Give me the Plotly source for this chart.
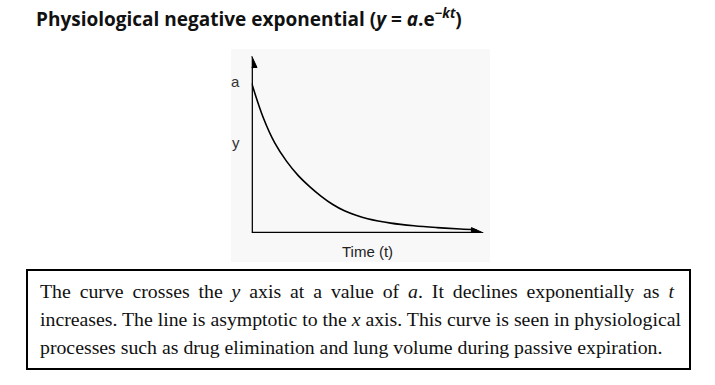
import plotly.graph_objects as go

# Data (time in arbitrary units, y as a fraction of a)
time_t = [0.0, 0.5, 1.0, 1.5, 2.0, 2.5, 3.0, 3.5, 4.0, 4.5, 5.0, 6.0, 7.0, 8.0, 9.0, 9.7]
y_vals = [1.0, 0.77, 0.60, 0.48, 0.385, 0.31, 0.245, 0.19, 0.148, 0.118, 0.095, 0.066, 0.048, 0.036, 0.027, 0.022]

title_text = "<b>Physiological negative exponential (<i>y</i> = <i>a</i>.e<sup>\u2212<i>kt</i></sup>)</b>"
x_label = "Time (t)"
y_label = "y"
a_label = "a"
caption_lines = [
    "The curve crosses the <i>y</i> axis at a value of <i>a</i>. It declines exponentially as <i>t</i>",
    "increases. The line is asymptotic to the <i>x</i> axis. This curve is seen in physiological",
    "processes such as drug elimination and lung volume during passive expiration.",
]

W, H = 715, 385
X_MAX, Y_MAX = 10.0, 1.182

def px(x):
    return x / W

def py(y):
    return (H - y) / H

fig = go.Figure()
fig.add_trace(go.Scatter(x=time_t, y=y_vals, mode="lines",
                         line=dict(color="black", width=1.6, shape="spline", smoothing=1.0),
                         hoverinfo="skip", showlegend=False))

shapes = []
# light grey panel behind the sketch
shapes.append(dict(type="rect", xref="paper", yref="paper", x0=px(231), x1=px(490), y0=py(262), y1=py(49),
                   fillcolor="#f8f8f8", line=dict(width=0), layer="below"))
# axes
shapes.append(dict(type="line", xref="x", yref="y", x0=0, y0=0, x1=0, y1=1.11,
                   line=dict(color="black", width=2.5)))
shapes.append(dict(type="line", xref="x", yref="y", x0=0, y0=0, x1=9.5, y1=0,
                   line=dict(color="black", width=2.5)))
# arrow heads
shapes.append(dict(type="path", xref="x", yref="y",
                   path=f"M -0.23,1.105 L 0.23,1.105 L 0,{Y_MAX} Z",
                   fillcolor="black", line=dict(color="black", width=1)))
shapes.append(dict(type="path", xref="x", yref="y",
                   path=f"M 9.48,-0.036 L 9.48,0.036 L {X_MAX},0 Z",
                   fillcolor="black", line=dict(color="black", width=1)))
# caption box
shapes.append(dict(type="rect", xref="paper", yref="paper", x0=px(27), x1=px(690), y0=py(369), y1=py(270),
                   line=dict(color="black", width=2), fillcolor="rgba(0,0,0,0)"))

annotations = []
annotations.append(dict(text=title_text, xref="paper", yref="paper", x=px(34), y=py(18),
                        xanchor="left", yanchor="middle", showarrow=False,
                        font=dict(family="Open Sans", size=19, color="#111")))
annotations.append(dict(text=a_label, xref="x", yref="y", x=0, y=1.0, xanchor="right", yanchor="middle",
                        xshift=-10, yshift=2, showarrow=False,
                        font=dict(family="Liberation Sans", size=15, color="#333")))
annotations.append(dict(text=y_label, xref="paper", yref="paper", x=px(236), y=py(142),
                        xanchor="center", yanchor="middle", showarrow=False,
                        font=dict(family="Liberation Sans", size=15, color="#333")))
annotations.append(dict(text=x_label, xref="paper", yref="paper", x=px(367), y=py(251),
                        xanchor="center", yanchor="middle", showarrow=False,
                        font=dict(family="Liberation Sans", size=15, color="#222")))
for i, line in enumerate(caption_lines):
    if i == 0:
        line = line.replace(" ", " \u2009")  # emulate justified spacing of the first line
    annotations.append(dict(text=line, xref="paper", yref="paper", x=px(38), y=py(291 + 28 * i),
                            xanchor="left", yanchor="middle", showarrow=False,
                            font=dict(family="Liberation Serif", size=19.8, color="#111")))

fig.update_layout(
    width=W, height=H, autosize=False,
    margin=dict(l=0, r=0, t=0, b=0),
    paper_bgcolor="white", plot_bgcolor="rgba(0,0,0,0)",
    xaxis=dict(domain=[px(251.7), px(483.5)], range=[0, X_MAX], visible=False, fixedrange=True),
    yaxis=dict(domain=[py(233), py(56)], range=[0, Y_MAX], visible=False, fixedrange=True),
    shapes=shapes, annotations=annotations, showlegend=False,
)

fig.write_html("out.html", config={"displayModeBar": False},
               post_script="document.body.style.margin='0';")
